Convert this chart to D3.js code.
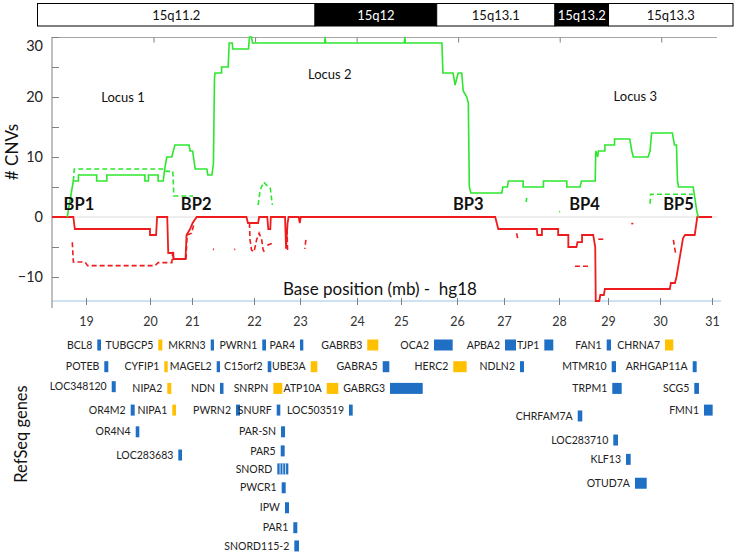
<!DOCTYPE html>
<html><head><meta charset="utf-8">
<script src="https://cdn.jsdelivr.net/npm/d3@7"></script>
<style>body{margin:0;background:#fff}text{font-family:Lato,"Open Sans",sans-serif}</style>
</head><body><svg id="c" width="738" height="555"></svg>
<script>
// ---------- DATA ----------
const bandNames = ["15q11.2","15q12","15q13.1","15q13.2","15q13.3"];
const bandStops = [0, 0.399, 0.574, 0.744, 0.821, 1];
const bandDark  = [false, true, false, true, false];

const xTickValues = [19,20,21,22,23,24,25,26,27,28,29,30,31];
const yLabelValues = [-10,0,10,20,30];
const yTickValues = [-10,-5,0,5,10,15,20,25,30];
const topTickValues = [20,22,24,26,28,30];

// Gains (green) – solid profile
const gainSolid = [[18.30,0],[18.36,3],[18.40,5],[18.42,6],[18.52,6],[18.52,7],[18.88,7],[18.88,6],[19.08,6],[19.08,7],[19.83,7],[19.83,6],[19.90,6],[19.90,7],[20.09,7],[20.09,6],[20.19,6],[20.22,8],[20.26,10],[20.36,10],[20.42,12],[20.70,12],[20.72,11],[20.77,11],[20.82,8],[21.05,8],[21.07,7],[21.15,7],[21.18,9],[21.20,23],[21.21,24],[21.34,24],[21.34,25],[21.47,25],[21.49,29],[21.55,29],[21.56,28],[21.87,28],[21.89,30],[21.93,30],[21.95,29],[23.37,29],[23.38,30],[23.39,29],[24.94,29],[24.95,30],[24.96,29],[25.68,29],[25.70,24],[25.90,24],[25.94,22],[26.00,24],[26.07,24],[26.10,21],[26.17,20],[26.20,19],[26.22,5],[26.25,4],[26.86,4],[26.88,5],[26.97,5],[26.99,6],[27.28,6],[27.28,5],[27.68,5],[27.68,6],[28.14,6],[28.14,5],[28.40,5],[28.43,6],[28.70,6],[28.71,11],[28.75,10],[28.76,11],[28.89,11],[28.89,12],[29.08,12],[29.08,13],[29.38,13],[29.42,11],[29.45,10],[29.74,10],[29.78,11],[29.81,14],[30.22,14],[30.26,12],[30.30,12],[30.32,6],[30.34,5],[30.63,5],[30.70,1],[30.73,0]];
// Gains (green) – dashed profile pieces
const gainDashed = [
  [[18.42,6],[18.44,8],[20.22,8],[20.25,7.6],[20.38,7.6],[20.40,3.5],[20.78,3.5]],
  [[22.06,2],[22.10,4.5],[22.17,5.8],[22.24,5.2],[22.30,4.8],[22.34,2]],
  [[29.78,2.2],[29.79,3.8],[30.63,3.8]],
  [[27.34,2.5],[27.35,3.2]],
  [[27.99,0.9],[28.01,0.9]]
];
// Losses (red) – solid profile
const lossSolid = [[18.0,0],[18.42,0],[18.45,-2],[19.93,-2],[19.93,-3],[20.05,-3],[20.07,0],[20.27,0],[20.29,-6],[20.39,-6],[20.39,-7],[20.63,-7],[20.65,-3],[20.72,-2],[20.77,-1],[20.85,0],[21.83,0],[21.86,-1],[22.06,-1],[22.08,0],[22.24,0],[22.26,-2],[22.30,-2],[22.31,0],[22.59,0],[22.61,-5.3],[22.64,-1],[22.66,0],[22.86,0],[22.88,-1],[22.90,0],[26.73,0],[26.79,-2],[27.55,-2],[27.56,-3],[27.65,-3],[27.65,-2],[27.97,-2],[27.97,-3],[28.17,-3],[28.17,-5],[28.33,-5],[28.35,-4.2],[28.44,-4.2],[28.44,-3],[28.66,-3],[28.70,-5],[28.71,-14],[28.78,-14],[28.80,-13],[28.87,-13],[28.89,-12],[30.17,-12],[30.19,-11],[30.27,-11],[30.30,-10],[30.34,-8],[30.40,-5],[30.43,-3.5],[30.47,-3],[30.66,-3],[30.71,0],[31.0,0]];
// Losses (red) – dashed profile pieces
const lossDashed = [
  [[18.40,-4.2],[18.42,-7.5],[18.65,-7.5],[18.70,-8.1],[20.03,-8.1],[20.09,-7.6],[20.36,-7.6],[20.38,-5.8],[20.40,-7.2]],
  [[20.64,-7],[20.66,-3],[20.75,-2.7],[20.80,-1]],
  [[21.89,-1],[21.90,-3.8],[21.93,-5.5],[21.98,-5.8],[22.03,-3.8],[22.08,-2.7],[22.13,-3.8],[22.16,-5.5],[22.20,-6]],
  [[22.24,-4.7],[22.33,-4.4]],
  [[22.63,-2],[22.64,-5.6]],
  [[23.00,-3.8],[22.98,-5.3]],
  [[21.17,-5.4],[21.19,-5.4]],
  [[21.59,-5.4],[21.61,-5.4]],
  [[27.15,-2.7],[27.18,-3.8]],
  [[28.76,-3.7],[28.86,-3.7]],
  [[28.30,-8.2],[28.56,-8.2]],
  [[30.24,-3.8],[30.26,-5],[30.29,-6.3]],
  [[29.41,-1.1],[29.45,-1.1]]
];

const locusNames = ["Locus 1","Locus 2","Locus 3"];
const locusX = [19.40, 23.47, 29.49];
const locusY = [19.25, 22.95, 19.4];
const bpNames = ["BP1","BP2","BP3","BP4","BP5"];
const bpX = [18.53, 20.84, 26.20, 28.49, 30.34];
const bpY = 1.1;

// RefSeq genes: name, start (Mb), end (Mb), display track, group (0 = blue, 1 = orange)
const geneNames  = ["BCL8","TUBGCP5","MKRN3","PWRN1","PAR4","GABRB3","OCA2","APBA2","TJP1","FAN1","CHRNA7",
  "POTEB","CYFIP1","MAGEL2","C15orf2","UBE3A","GABRA5","HERC2","NDLN2","MTMR10","ARHGAP11A",
  "LOC348120","NIPA2","NDN","SNRPN","ATP10A","GABRG3","TRPM1","SCG5",
  "OR4M2","NIPA1","PWRN2","SNURF","LOC503519","CHRFAM7A","FMN1",
  "OR4N4","PAR-SN","LOC283710","LOC283683","PAR5","KLF13","SNORD","OTUD7A","PWCR1","IPW","PAR1","SNORD115-2"];
const geneStarts = [18.892,20.094,21.126,22.142,22.885,24.210,25.524,26.923,27.697,28.926,30.074,
  19.030,20.212,21.244,22.249,23.096,24.514,25.904,27.218,29.024,30.620,
  19.176,20.271,21.309,22.359,23.411,24.658,29.036,30.651,
  19.550,20.370,21.624,22.426,23.850,28.355,30.842,
  19.649,22.511,29.056,20.488,22.505,29.306,22.438,29.483,22.524,22.589,22.753,22.773];
const geneEnds   = [18.965,20.173,21.191,22.215,22.950,24.427,25.892,27.139,27.874,29.011,30.238,
  19.109,20.279,21.309,22.320,23.226,24.644,26.168,27.297,29.109,30.698,
  19.255,20.350,21.378,22.536,23.639,25.302,29.221,30.743,
  19.629,20.442,21.703,22.497,23.923,28.445,31.013,
  19.720,22.590,29.148,20.561,22.583,29.398,22.655,29.714,22.603,22.668,22.832,22.865];
const geneTracks = [0,0,0,0,0,0,0,0,0,0,0,
  1,1,1,1,1,1,1,1,1,1,
  1.92,2,2,2,2,2,2,2,
  3,3,3,3,3,3.27,3,
  4,4,4.38,5.07,4.88,5.27,5.71,6.37,6.58,7.5,8.42,9.26];
const geneGroups = [0,1,0,0,0,1,0,0,0,0,1,
  0,1,0,0,1,0,1,0,0,0,
  0,1,0,1,1,0,0,0,
  0,1,0,0,0,0,0,
  0,0,0,0,0,0,0,0,0,0,0,0];

// ---------- DRAW ----------
const svg = d3.select("#c");
const GREEN = "#2ee62e", RED = "#ee1c1c", BLUE = "#1f6fc4", ORANGE = "#ffc000";

const x = d3.scaleLinear().domain([18,31]).range([52,712]);
const y = d3.scaleLinear().domain([-14,30]).range([301,37]);
// the printed base-position axis has irregular label spacing in the original figure
const xLabelScale = d3.scaleLinear().domain(xTickValues).range([86,150,192,254,300,357,401,457,504,559,608,660,712]);
const ideo = d3.scaleLinear().domain([0,1]).range([37.5,733]);
const track = d3.scaleLinear().domain([0,1]).range([345,366.7]);

// Ideogram
const ig = svg.append("g");
bandNames.forEach((n,i)=>{
  const x0 = ideo(bandStops[i]), x1 = ideo(bandStops[i+1]);
  ig.append("rect").attr("x",x0).attr("y",3.5).attr("width",x1-x0).attr("height",22.5)
    .attr("fill",bandDark[i]?"#000":"#fff").attr("stroke","#000").attr("stroke-width",1);
  ig.append("text").attr("x",(x0+x1)/2).attr("y",15).attr("dy","0.35em").attr("text-anchor","middle")
    .attr("font-size",13).attr("fill",bandDark[i]?"#fff":"#111").text(n);
});

// plot frame
svg.append("line").attr("x1",52).attr("x2",717).attr("y1",37.5).attr("y2",37.5).attr("stroke","#a6a6a6");
svg.append("line").attr("x1",52).attr("x2",717).attr("y1",y(0)).attr("y2",y(0)).attr("stroke","#dcdcdc");

// top ticks
const topAx = svg.append("g").attr("transform","translate(0,37.5)")
  .call(d3.axisBottom(x).tickValues(topTickValues).tickSize(5).tickFormat(""));
topAx.select(".domain").remove();
topAx.selectAll("line").attr("stroke","#808080");

// y axis
const yAx = svg.append("g").attr("transform","translate(52,0)")
  .call(d3.axisRight(y).tickValues(yTickValues).tickSize(7).tickFormat(""));
yAx.select(".domain").attr("d",`M0,${y.range()[1]}V${y.range()[0]}`).attr("stroke","#808080");
yAx.selectAll("line").attr("stroke","#808080");
const yLab = svg.append("g").attr("transform","translate(52,0)")
  .call(d3.axisLeft(y).tickValues(yLabelValues).tickSize(0).tickPadding(9));
yLab.select(".domain").remove();
yLab.selectAll("text").attr("font-size",14.5).attr("fill","#222").attr("font-family","Lato,sans-serif")
  .attr("dy",d=>d===30?"0.95em":"0.32em");

// bottom axis
svg.append("line").attr("x1",52).attr("x2",721).attr("y1",301).attr("y2",301).attr("stroke","#9dc3e6").attr("stroke-width",1.2);
const xb = svg.append("g").attr("transform","translate(0,301)")
  .call(d3.axisBottom(xLabelScale).tickValues(xTickValues).tickSize(4).tickPadding(12));
xb.select(".domain").remove();
xb.selectAll("line").attr("y1",-3).attr("stroke","#7f7f7f");
xb.selectAll("text").attr("font-size",12.5).attr("fill","#333").attr("font-family","Lato,sans-serif");
svg.append("line").attr("x1",52).attr("x2",52).attr("y1",301).attr("y2",308).attr("stroke","#7f7f7f");

// profile lines
const line = d3.line().x(d=>x(d[0])).y(d=>y(d[1]));
svg.append("path").datum(lossSolid).attr("d",line).attr("fill","none").attr("stroke",RED).attr("stroke-width",1.8);
lossDashed.forEach(seg=>svg.append("path").datum(seg).attr("d",line).attr("fill","none")
  .attr("stroke",RED).attr("stroke-width",1.6).attr("stroke-dasharray","5,3"));
gainDashed.forEach(seg=>svg.append("path").datum(seg).attr("d",line).attr("fill","none")
  .attr("stroke",GREEN).attr("stroke-width",1.6).attr("stroke-dasharray","5,3"));
svg.append("path").datum(gainSolid).attr("d",line).attr("fill","none").attr("stroke",GREEN).attr("stroke-width",1.6);

// annotations
locusNames.forEach((n,i)=>svg.append("text").attr("x",x(locusX[i])).attr("y",y(locusY[i]))
  .attr("text-anchor","middle").attr("font-size",13).attr("fill","#111").text(n));
bpNames.forEach((n,i)=>svg.append("text").attr("x",x(bpX[i])).attr("y",y(bpY))
  .attr("text-anchor","middle").attr("font-size",16.5).attr("font-weight","bold").attr("fill","#111").text(n));

svg.append("text").attr("x",283).attr("y",295).attr("font-size",17).attr("fill","#111")
  .attr("xml:space","preserve").text("Base position (mb) -  hg18");
svg.append("text").attr("transform","translate(18,152) rotate(-90)").attr("text-anchor","middle")
  .attr("font-size",17).attr("fill","#111").text("# CNVs");
svg.append("text").attr("transform","translate(27,434) rotate(-90)").attr("text-anchor","middle")
  .attr("font-size",16.5).attr("fill","#111").text("RefSeq genes");

// genes
const gg = svg.append("g");
geneNames.forEach((n,i)=>{
  const x0 = x(geneStarts[i]), x1 = x(geneEnds[i]), cy = track(geneTracks[i]);
  gg.append("rect").attr("x",x0).attr("y",cy-5.5).attr("width",x1-x0).attr("height",11)
    .attr("fill",geneGroups[i]?ORANGE:BLUE);
  if(n==="SNORD"){
    [0.25,0.5,0.75].forEach(f=>gg.append("line").attr("x1",x0+(x1-x0)*f).attr("x2",x0+(x1-x0)*f)
      .attr("y1",cy-5.5).attr("y2",cy+5.5).attr("stroke","#fff").attr("stroke-width",0.8));
  }
  gg.append("text").attr("x",x0-5).attr("y",cy).attr("dy","0.35em").attr("text-anchor","end")
    .attr("font-size",10.5).attr("fill","#222").text(n);
});
</script></body></html>
